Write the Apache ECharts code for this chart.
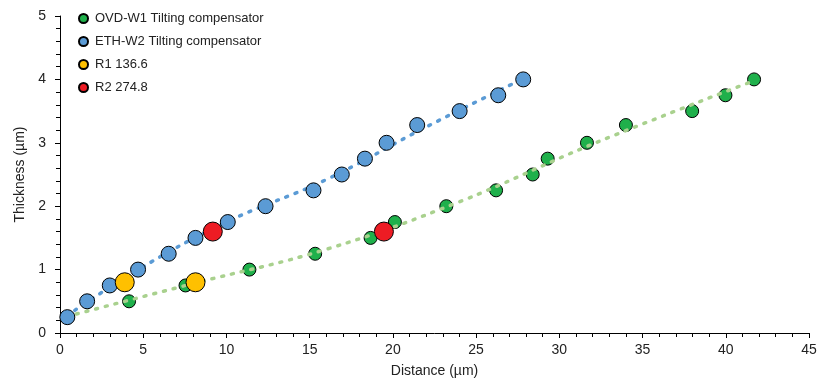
<!DOCTYPE html>
<html>
<head>
<meta charset="utf-8">
<script src="https://cdn.jsdelivr.net/npm/echarts@6/dist/echarts.min.js"></script>
<style>
  html, body { margin: 0; padding: 0; background: #fff; }
  #chart { width: 818px; height: 381px; }
</style>
</head>
<body>
<div id="chart"></div>
<script>
// 数据 (distance µm, thickness µm)
var ovdX = [0.45, 4.15, 7.54, 11.38, 15.33, 18.66, 20.12, 23.21, 26.2, 28.4, 29.3, 31.66, 34.0, 37.98, 39.98, 41.7];
var ovdY = [0.25, 0.5, 0.75, 1.0, 1.25, 1.5, 1.75, 2.0, 2.25, 2.5, 2.75, 3.0, 3.28, 3.5, 3.75, 4.0];
var ethX = [0.44, 1.63, 2.99, 4.69, 6.53, 8.14, 10.08, 12.35, 15.23, 16.93, 18.32, 19.62, 21.46, 24.01, 26.33, 27.83];
var ethY = [0.25, 0.5, 0.75, 1.0, 1.25, 1.5, 1.75, 2.0, 2.25, 2.5, 2.75, 3.0, 3.28, 3.5, 3.75, 4.0];
var r1X = [3.89, 8.14];
var r1Y = [0.8, 0.8];
var r2X = [9.18, 19.46];
var r2Y = [1.6, 1.6];
// 趋势线
var ovdTrendX = [0.4, 8, 16, 24, 32, 41.7];
var ovdTrendY = [0.26, 0.78, 1.32, 2.07, 2.98, 3.98];
var ethTrendX = [0.4, 4.7, 10, 16, 22, 27.9];
var ethTrendY = [0.27, 1.0, 1.75, 2.42, 3.25, 4.02];
var seriesNames = ['OVD-W1 Tilting compensator', 'ETH-W2 Tilting compensator', 'R1 136.6', 'R2 274.8'];

function pairs(xs, ys) {
  return xs.map(function(x, i) { return [x, ys[i]]; });
}

var chart = echarts.init(document.getElementById('chart'));
var font = 'Liberation Sans';

chart.setOption({
  animation: false,
  textStyle: { fontFamily: font },
  grid: { left: 60, right: 9, top: 16, bottom: 48, outerBoundsMode: 'none' },
  legend: {
    data: seriesNames,
    orient: 'vertical',
    left: 73,
    top: 7,
    itemWidth: 9,
    itemHeight: 9,
    itemGap: 10,
    textStyle: { fontSize: 13, color: '#222', fontFamily: font, padding: [0, 0, 0, 2] }
  },
  xAxis: {
    type: 'value',
    min: 0,
    max: 45,
    interval: 5,
    name: 'Distance (µm)',
    nameLocation: 'middle',
    nameGap: 31,
    nameTextStyle: { fontSize: 14, color: '#222' },
    axisLine: { lineStyle: { color: '#000', width: 1 } },
    axisTick: { length: 5, lineStyle: { color: '#000' } },
    minorTick: { show: true, splitNumber: 5, length: 4, lineStyle: { color: '#000' } },
    axisLabel: { fontSize: 14, color: '#222', margin: 10 },
    splitLine: { show: false }
  },
  yAxis: {
    type: 'value',
    min: 0,
    max: 5,
    interval: 1,
    name: 'Thickness (µm)',
    nameLocation: 'middle',
    nameGap: 33,
    nameTextStyle: { fontSize: 14, color: '#222' },
    axisLine: { show: true, lineStyle: { color: '#000', width: 1 } },
    axisTick: { show: true, length: 5, lineStyle: { color: '#000' } },
    minorTick: { show: true, splitNumber: 5, length: 4, lineStyle: { color: '#000' } },
    axisLabel: { fontSize: 14, color: '#222', margin: 14 },
    splitLine: { show: false }
  },
  series: [
    {
      name: seriesNames[0],
      type: 'scatter',
      data: pairs(ovdX, ovdY),
      symbolSize: 13,
      itemStyle: { color: '#1FB04B', borderColor: '#000', borderWidth: 1, opacity: 1 },
      z: 3
    },
    {
      type: 'line',
      data: pairs(ovdTrendX, ovdTrendY),
      smooth: 0.4,
      showSymbol: false,
      silent: true,
      lineStyle: { color: '#A9D18E', width: 3.5, type: [2, 8], cap: 'round' },
      z: 4
    },
    {
      type: 'line',
      data: pairs(ethTrendX, ethTrendY),
      smooth: 0.4,
      showSymbol: false,
      silent: true,
      lineStyle: { color: '#5B9BD5', width: 3.5, type: [2, 8], cap: 'round' },
      z: 2
    },
    {
      name: seriesNames[1],
      type: 'scatter',
      data: pairs(ethX, ethY),
      symbolSize: 15,
      itemStyle: { color: '#5B9BD5', borderColor: '#000', borderWidth: 1, opacity: 1 },
      z: 5
    },
    {
      name: seriesNames[2],
      type: 'scatter',
      data: pairs(r1X, r1Y),
      symbolSize: 19,
      itemStyle: { color: '#FFC000', borderColor: '#000', borderWidth: 1, opacity: 1 },
      z: 6
    },
    {
      name: seriesNames[3],
      type: 'scatter',
      data: pairs(r2X, r2Y),
      symbolSize: 19,
      itemStyle: { color: '#ED1C24', borderColor: '#000', borderWidth: 1, opacity: 1 },
      z: 6
    }
  ]
});
</script>
</body>
</html>
